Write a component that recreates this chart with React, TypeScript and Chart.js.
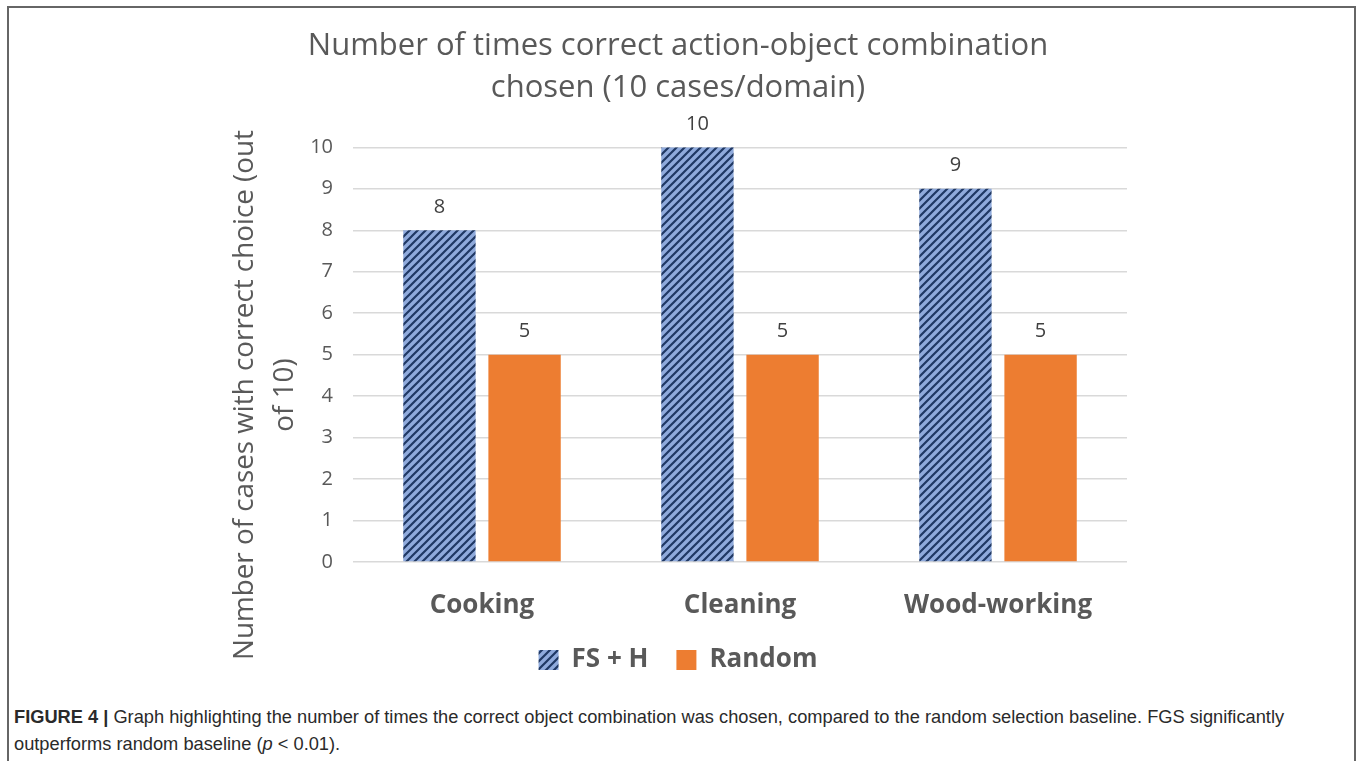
import React, { useEffect, useRef } from "react";
import { Chart, registerables } from "chart.js";

Chart.register(...registerables);

const categories = ["Cooking", "Cleaning", "Wood-working"];
const seriesNames = ["FS + H", "Random"];
const fsHValues = [8, 10, 9];
const randomValues = [5, 5, 5];
const yMin = 0;
const yMax = 10;
const yStep = 1;
const titleLines = ["Number of times correct action-object combination", "chosen (10 cases/domain)"];
const yTitleLines = ["Number of cases with correct choice (out", "of 10)"];

const FONT = "'Open Sans', 'Noto Sans', sans-serif";
const TEXT_COLOR = "#595959";

function makeHatch(): CanvasPattern | string {
  const c = document.createElement("canvas");
  c.width = 8;
  c.height = 8;
  const g = c.getContext("2d");
  if (!g) return "#8FAADC";
  g.fillStyle = "#8FAADC";
  g.fillRect(0, 0, 8, 8);
  g.strokeStyle = "#1F3864";
  g.lineWidth = 2.2;
  g.beginPath();
  g.moveTo(-2, 10);
  g.lineTo(10, -2);
  g.moveTo(-6, 6);
  g.lineTo(6, -6);
  g.moveTo(2, 14);
  g.lineTo(14, 2);
  g.stroke();
  return g.createPattern(c, "repeat") || "#8FAADC";
}

const valueLabels = {
  id: "valueLabels",
  afterDatasetsDraw(chart: any) {
    const ctx = chart.ctx;
    ctx.save();
    ctx.font = `20px ${FONT}`;
    ctx.fillStyle = "#404040";
    ctx.textAlign = "center";
    ctx.textBaseline = "middle";
    chart.data.datasets.forEach((ds: any, i: number) => {
      const meta = chart.getDatasetMeta(i);
      meta.data.forEach((el: any, j: number) => {
        ctx.fillText(String(ds.data[j]), el.x, el.y - 23);
      });
    });
    ctx.restore();
  },
};

const yAxisTitle = {
  id: "yAxisTitle",
  afterDraw(chart: any) {
    const ctx = chart.ctx;
    const area = chart.chartArea;
    const cx = area.left - 108;
    const cy = area.bottom - 167;
    ctx.save();
    ctx.translate(cx, cy);
    ctx.rotate(-Math.PI / 2);
    ctx.font = `27.8px ${FONT}`;
    ctx.fillStyle = TEXT_COLOR;
    ctx.textAlign = "center";
    ctx.textBaseline = "middle";
    yTitleLines.forEach((line, i) => {
      ctx.fillText(line, 0, i * 40);
    });
    ctx.restore();
  },
};

export default function App() {
  const ref = useRef<HTMLCanvasElement | null>(null);

  useEffect(() => {
    document.body.style.margin = "0";
    if (!ref.current) return;
    const hatch = makeHatch();
    const chart = new Chart(ref.current, {
      type: "bar",
      data: {
        labels: categories,
        datasets: [
          {
            label: seriesNames[0],
            data: fsHValues,
            backgroundColor: hatch as any,
            borderWidth: 0,
            categoryPercentage: 0.66,
            barPercentage: 0.85,
          },
          {
            label: seriesNames[1],
            data: randomValues,
            backgroundColor: "#ED7D31",
            borderWidth: 0,
            categoryPercentage: 0.66,
            barPercentage: 0.85,
          },
        ],
      },
      options: {
        animation: false,
        responsive: false,
        events: [],
        layout: { padding: { top: 25, left: 229, right: 230, bottom: 17 } },
        plugins: {
          title: {
            display: true,
            text: titleLines,
            color: TEXT_COLOR,
            font: { family: FONT, size: 31, weight: "normal", lineHeight: 1.36 },
            padding: { top: 0, bottom: 38 },
          },
          legend: {
            position: "bottom",
            labels: {
              color: TEXT_COLOR,
              font: { family: FONT, size: 26, weight: "bold" },
              boxWidth: 20,
              boxHeight: 20,
              padding: 28,
            },
          },
          tooltip: { enabled: false },
        },
        scales: {
          x: {
            grid: { display: false },
            border: { display: false },
            ticks: {
              color: TEXT_COLOR,
              font: { family: FONT, size: 26, weight: "bold" },
              padding: 20,
              maxRotation: 0,
              minRotation: 0,
              autoSkip: false,
            },
            afterFit: (s: any) => {
              s.height = 57;
            },
          },
          y: {
            min: yMin,
            max: yMax,
            ticks: {
              stepSize: yStep,
              color: TEXT_COLOR,
              font: { family: FONT, size: 20 },
              padding: 20,
            },
            grid: { color: "#d9d9d9", lineWidth: 1.5, drawTicks: false },
            border: { display: false },
            title: { display: false },
            afterFit: (s: any) => {
              s.width = 124;
            },
          },
        },
      },
      plugins: [valueLabels, yAxisTitle],
    });
    return () => chart.destroy();
  }, []);

  return (
    <div style={{ position: "absolute", left: 0, top: 0, width: 1357, height: 761, background: "#fff", overflow: "hidden" }}>
      <div
        style={{
          position: "absolute",
          left: 7,
          top: 6,
          width: 1349,
          height: 770,
          borderLeft: "2px solid #666",
          borderTop: "2px solid #666",
          borderRight: "2px solid #666",
          boxSizing: "border-box",
        }}
      />
      <canvas ref={ref} width={1357} height={700} style={{ position: "absolute", left: 0, top: 0 }} />
      <div
        style={{
          position: "absolute",
          left: 14,
          top: 703,
          width: 1335,
          fontFamily: "'Liberation Sans', Arial, sans-serif",
          fontSize: 18.25,
          lineHeight: "27px",
          color: "#2a2a2a",
          whiteSpace: "nowrap",
        }}
      >
        <b>FIGURE 4 |</b> Graph highlighting the number of times the correct object combination was chosen, compared to the random selection baseline. FGS significantly
        <br />
        outperforms random baseline (<i>p</i> &lt; 0.01).
      </div>
    </div>
  );
}
